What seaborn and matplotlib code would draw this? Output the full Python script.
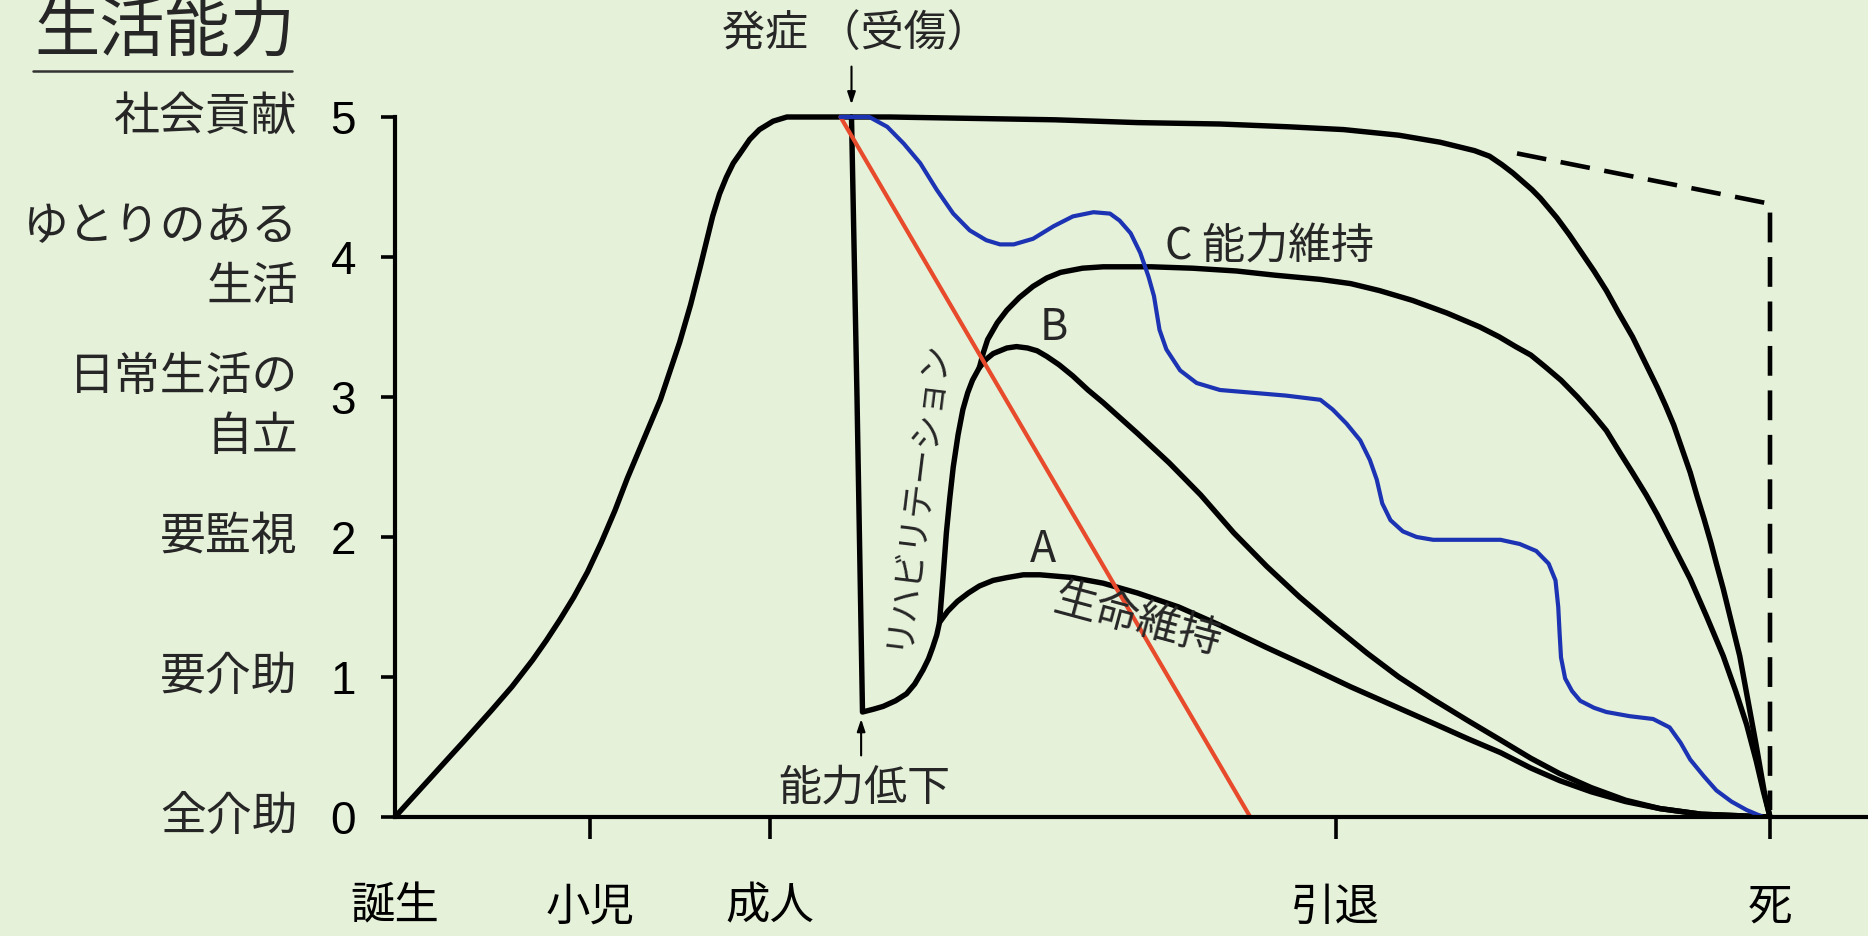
import matplotlib
matplotlib.use("Agg")
import matplotlib.pyplot as plt
from matplotlib.lines import Line2D
import seaborn as sns

# ---- data (x: 誕生=0 ... 死=100, y: 生活能力 0-5) ----
life_x = [0, 1.2, 2.5, 3.7, 5, 6, 7, 8.5, 10, 11, 12, 13, 14, 15, 16, 16.9, 18.1, 19.3, 20.7, 21.5, 22.2,
          23.1, 23.6, 24.1, 24.6, 25.1, 25.8, 26.5, 27.5, 28.5, 31.4, 32.4,
          36, 42, 48, 54, 60, 65, 69, 73, 76, 78.5, 79.6, 80.5, 81.3, 82, 82.7, 83.3, 84.5, 85.4, 86.3,
          87.2, 88.1, 89, 90, 90.9, 91.8, 92.4, 93, 93.6, 94.2, 94.7, 95.2, 95.7, 96.1, 96.6, 97, 97.4,
          97.8, 98.1, 98.4, 98.7, 99, 99.3, 99.6, 100]
life_y = [0, 0.13, 0.27, 0.4, 0.54, 0.65, 0.76, 0.93, 1.12, 1.26, 1.41, 1.57, 1.75, 1.96, 2.19, 2.42, 2.7, 2.98, 3.39, 3.66, 3.93,
          4.29, 4.45, 4.57, 4.67, 4.74, 4.84, 4.91, 4.97, 5.0, 5.0, 5.0,
          5.0, 4.99, 4.98, 4.96, 4.95, 4.93, 4.91, 4.87, 4.82, 4.76, 4.72, 4.66, 4.6, 4.54, 4.48, 4.42, 4.28, 4.16, 4.03,
          3.9, 3.76, 3.6, 3.43, 3.25, 3.07, 2.94, 2.8, 2.63, 2.46, 2.29, 2.13, 1.96, 1.81, 1.63, 1.47, 1.31,
          1.15, 0.99, 0.83, 0.67, 0.51, 0.34, 0.17, 0]

# 発症 -> 能力低下 -> A 生命維持
a_x = [33.2, 33.6, 34.0, 34.8, 35.5, 36.4, 37.2, 37.8, 38.4, 38.8, 39.1, 39.4, 39.6, 40.2, 40.9, 41.7, 42.5,
       43.5, 44.5, 45.7, 46.9, 48.1, 49.3, 50.4, 51.5, 54, 57, 60, 63.4, 66.5, 69.5, 72.5, 75.5, 78, 80.4,
       82.6, 84.7, 87, 89.5, 92, 95, 100]
a_y = [5.0, 3.0, 0.75, 0.77, 0.79, 0.83, 0.88, 0.95, 1.05, 1.13, 1.21, 1.3, 1.39, 1.47, 1.54, 1.6, 1.65,
       1.69, 1.71, 1.73, 1.73, 1.72, 1.71, 1.69, 1.67, 1.6, 1.5, 1.37, 1.21, 1.07, 0.93, 0.8, 0.67, 0.56, 0.46,
       0.35, 0.26, 0.18, 0.11, 0.06, 0.02, 0]

# リハビリテーション -> B
b_x = [39.6, 39.85, 40.1, 40.35, 40.6, 40.95, 41.3, 41.65, 42.0, 42.5, 43, 43.5, 44.5, 45.2, 46, 46.7, 47.4,
       48.3, 49.3, 50.4, 51.5, 54, 56.3, 58.6, 61, 63.4, 65.8, 68.2, 70.7, 73, 75.5, 78, 80.4, 82.6, 84.7,
       87, 89.5, 92, 95, 100]
b_y = [1.39, 1.7, 2.03, 2.28, 2.5, 2.73, 2.91, 3.03, 3.12, 3.21, 3.27, 3.31, 3.35, 3.36, 3.35, 3.33, 3.29,
       3.23, 3.15, 3.05, 2.96, 2.74, 2.53, 2.3, 2.03, 1.79, 1.57, 1.37, 1.17, 1.0, 0.84, 0.69, 0.55, 0.42, 0.31,
       0.21, 0.12, 0.06, 0.02, 0]

# C 能力維持
c_x = [42.5, 42.8, 43.1, 43.8, 44.5, 45.4, 46.4, 47.4, 48.4, 50, 51.5, 55, 58, 61.2, 64, 67.3, 69.5, 71.6,
       74, 76.5, 78.9, 80.3, 81.5, 82.6, 83.6, 84.8, 86, 87.1, 88.1, 89.1, 90, 91, 91.8, 93, 94.2, 95.4,
       96.6, 97.5, 98.3, 99, 99.5, 100]
c_y = [3.21, 3.32, 3.41, 3.53, 3.62, 3.71, 3.79, 3.85, 3.89, 3.92, 3.93, 3.93, 3.92, 3.9, 3.87, 3.84, 3.81, 3.76,
       3.69, 3.6, 3.5, 3.43, 3.36, 3.3, 3.22, 3.12, 3.0, 2.88, 2.76, 2.6, 2.46, 2.3, 2.16, 1.93, 1.7, 1.43,
       1.15, 0.9, 0.66, 0.4, 0.19, 0]

blue_x = [32.4, 34.5, 35.8, 37.0, 38.2, 39.4, 40.6, 41.8, 43.0, 44.0, 45.0, 46.4, 47.9, 49.3, 50.8, 52.0, 52.7,
          53.5, 54.2, 54.8, 55.2, 55.6, 56.1, 57.1, 58.3, 60.0, 62.4, 64.8, 67.3, 68.2, 69.2, 70.2, 70.9,
          71.4, 71.8, 72.4, 73.3, 74.3, 75.5, 77.9, 80.4, 81.8, 83.0, 83.9, 84.4, 84.6, 84.7, 84.8, 85.1,
          85.6, 86.2, 87.2, 88.1, 89.8, 91.5, 92.7, 93.5, 94.2, 95.2, 96.1, 97.2, 98.3, 99.5]
blue_y = [5.0, 5.0, 4.93, 4.81, 4.67, 4.48, 4.31, 4.19, 4.12, 4.09, 4.09, 4.13, 4.22, 4.29, 4.32, 4.31, 4.26,
          4.17, 4.03, 3.86, 3.72, 3.48, 3.34, 3.19, 3.1, 3.05, 3.03, 3.01, 2.98, 2.91, 2.81, 2.69, 2.55,
          2.41, 2.24, 2.12, 2.04, 2.0, 1.98, 1.98, 1.98, 1.95, 1.9, 1.81, 1.69, 1.5, 1.31, 1.14, 0.99,
          0.9, 0.83, 0.78, 0.75, 0.72, 0.7, 0.64, 0.53, 0.41, 0.29, 0.19, 0.11, 0.05, 0.0]

red_x = [32.4, 62.2]
red_y = [5.0, 0]

dash_x = [81.6, 100, 100]
dash_y = [4.74, 4.38, 0.05]

level_ticks = [0, 1, 2, 3, 4, 5]
level_names = ["全介助", "要介助", "要監視", "日常生活の\n自立", "ゆとりのある\n生活", "社会貢献"]
stage_ticks = [0, 14.2, 27.3, 68.4, 100]
stage_names = ["誕生", "小児", "成人", "引退", "死"]

# ---- style ----
bg = "#e5f1d9"
sns.set_theme(style="white")
plt.rcParams["font.family"] = ["Noto Sans CJK JP", "DejaVu Sans"]

fig = plt.figure(figsize=(18.68, 9.36), dpi=100, facecolor=bg)
ax = fig.add_axes([395 / 1868, 119 / 936, 1471.25 / 1868, 5.3 * 140 / 936])
ax.set_facecolor(bg)

lw = 3.9
line_kw = dict(sort=False, estimator=None, solid_capstyle="round", solid_joinstyle="round")
sns.lineplot(x=life_x, y=life_y, color="black", lw=lw, ax=ax, **line_kw)
sns.lineplot(x=a_x, y=a_y, color="black", lw=lw, ax=ax, **line_kw)
sns.lineplot(x=b_x, y=b_y, color="black", lw=lw, ax=ax, **line_kw)
sns.lineplot(x=c_x, y=c_y, color="black", lw=lw, ax=ax, **line_kw)
sns.lineplot(x=red_x, y=red_y, color="#e84a2c", lw=3.0, ax=ax, **line_kw)
sns.lineplot(x=blue_x, y=blue_y, color="#1c33b3", lw=3.0, ax=ax, **line_kw)
sns.lineplot(x=dash_x, y=dash_y, color="black", lw=3.3, linestyle=(0, (6.5, 3.2)), ax=ax,
             sort=False, estimator=None)

ax.set_xlim(0, 107)
ax.set_ylim(0, 5.3)
ax.set_xlabel("")
ax.set_ylabel("")

for s in ["top", "right"]:
    ax.spines[s].set_visible(False)
for s in ["left", "bottom"]:
    ax.spines[s].set_color("black")
    ax.spines[s].set_linewidth(3.0)
ax.spines["left"].set_bounds(0, 5)

lab_fs = 33
ax.set_yticks(level_ticks)
ax.set_yticklabels([str(v) for v in level_ticks], fontsize=lab_fs, family=["Liberation Sans"])
ax.tick_params(axis="y", direction="out", length=10, width=2.6, pad=18, colors="black", left=True)
ax.set_xticks(stage_ticks)
ax.set_xticklabels(stage_names, fontsize=32)
ax.tick_params(axis="x", direction="out", length=16, width=2.6, pad=32, colors="black", bottom=True)
ax.xaxis.get_major_ticks()[0].tick1line.set_visible(False)

ytr = ax.get_yaxis_transform()
name_pos = [0, 1, 2, 2.93, 4, 5]
for yv, name in zip(name_pos, level_names):
    ax.text(-0.066, yv, name, transform=ytr, ha="right", va="center", multialignment="right",
            fontsize=lab_fs, linespacing=1.3, clip_on=False)

# annotations
txt_fs = 31
ax.text(33.5, 5.59, "発症 （受傷）", ha="center", va="center", fontsize=txt_fs, clip_on=False)
ax.annotate("", xy=(33.2, 5.07), xytext=(33.2, 5.38), annotation_clip=False,
            arrowprops=dict(arrowstyle="-|>,head_length=0.6,head_width=0.2", color="black", lw=1.5))
ax.text(34.1, 0.2, "能力低下", ha="center", va="center", fontsize=txt_fs)
ax.annotate("", xy=(33.9, 0.72), xytext=(33.9, 0.42),
            arrowprops=dict(arrowstyle="-|>,head_length=0.6,head_width=0.2", color="black", lw=1.5))
ax.text(37.8, 2.31, "リハビリテーション", ha="center", va="center", fontsize=25, rotation=83)
ax.text(56.0, 4.07, "C 能力維持", ha="left", va="center", fontsize=txt_fs)
ax.text(47.9, 3.49, "B", ha="center", va="center", fontsize=txt_fs)
ax.text(47.1, 1.91, "A", ha="center", va="center", fontsize=txt_fs)
ax.text(54.0, 1.4, "生命維持", ha="center", va="center", fontsize=txt_fs, rotation=-15)

fig.text(34 / 1868, 1 - 32 / 936, "生活能力", ha="left", va="center", fontsize=47)
fig.add_artist(Line2D([33 / 1868, 292 / 1868], [1 - 71 / 936, 1 - 71 / 936], color="#333333", lw=1.8))

fig.savefig("out.png", dpi=100, facecolor=bg)
